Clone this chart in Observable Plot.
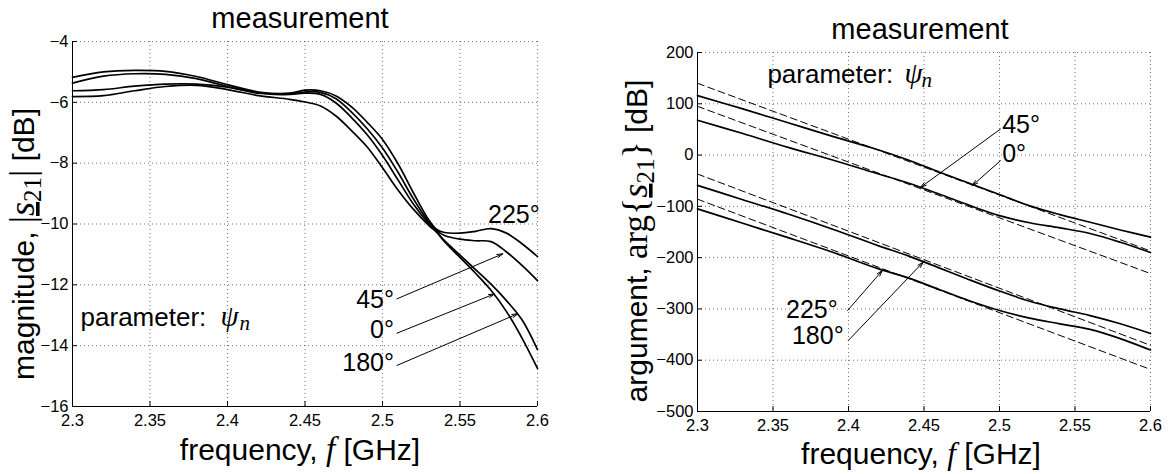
<!DOCTYPE html>
<html><head><meta charset="utf-8">
<script src="https://cdn.jsdelivr.net/npm/d3@7"></script>
<script src="https://cdn.jsdelivr.net/npm/@observablehq/plot@0.6"></script>
<style>
body{margin:0;background:#fff;}
#wrap{position:relative;width:1168px;height:474px;overflow:hidden;background:#fff;}
#left,#right{position:absolute;top:0;}
#left{left:0;} #right{left:584px;}
</style></head><body>
<div id="wrap"><div id="left"></div><div id="right"></div></div>
<script>
const SANS = "'Liberation Sans', Arial, Helvetica, sans-serif";
const SERIF = "'Liberation Serif', 'DejaVu Serif', serif";

// ---------- tick values ----------
const xTicks = [2.3, 2.35, 2.4, 2.45, 2.5, 2.55, 2.6];
const yTicksMag = [-16, -14, -12, -10, -8, -6, -4];
const yTicksArg = [-500, -400, -300, -200, -100, 0, 100, 200];

// ---------- left panel: magnitude |s21| [dB] ----------
const freqMag = [2.30, 2.32, 2.34, 2.36, 2.38, 2.40, 2.42, 2.44, 2.45, 2.46, 2.47, 2.48, 2.49, 2.50, 2.51, 2.52, 2.53, 2.535, 2.54, 2.55, 2.56, 2.57, 2.58, 2.59, 2.60];
const mag225 = [-5.18, -5.00, -4.95, -4.98, -5.15, -5.42, -5.66, -5.70, -5.60, -5.62, -5.79, -6.15, -6.65, -7.22, -8.02, -8.98, -9.88, -10.18, -10.28, -10.30, -10.24, -10.15, -10.30, -10.65, -11.07];
const mag45  = [-5.37, -5.14, -5.06, -5.08, -5.22, -5.48, -5.70, -5.74, -5.66, -5.67, -5.88, -6.32, -6.86, -7.50, -8.30, -9.18, -9.95, -10.22, -10.38, -10.50, -10.55, -10.58, -10.92, -11.36, -11.86];
const mag0   = [-5.62, -5.58, -5.47, -5.40, -5.40, -5.50, -5.68, -5.73, -5.70, -5.74, -6.02, -6.50, -7.06, -7.75, -8.55, -9.35, -10.00, -10.26, -10.58, -11.10, -11.62, -12.18, -12.88, -13.75, -14.75];
const mag180 = [-5.81, -5.78, -5.62, -5.48, -5.44, -5.58, -5.78, -5.90, -5.99, -6.12, -6.45, -6.93, -7.46, -8.15, -8.88, -9.52, -10.05, -10.28, -10.55, -11.02, -11.50, -11.98, -12.52, -13.15, -14.13];

// ---------- right panel: argument arg{s21} ----------
const freqArg = [2.30, 2.33, 2.36, 2.39, 2.42, 2.44, 2.46, 2.48, 2.50, 2.52, 2.54, 2.56, 2.58, 2.60];
const arg0   = [116, 90, 63, 36, 10, -10, -33, -55, -77, -99, -116, -131, -146, -160];
const arg45  = [68, 42, 15, -10, -37, -55, -76, -98, -118, -132, -142, -153, -170, -190];
const arg180 = [-59, -87, -115, -145, -177, -197, -220, -243, -265, -285, -300, -313, -329, -348];
const arg225 = [-105, -133, -161, -190, -222, -240, -262, -284, -303, -318, -329, -340, -358, -380];
// straight (dashed) reference lines
const freqFit = [2.3, 2.6];
const fit0   = [140, -187];
const fit45  = [95, -231];
const fit180 = [-37, -371];
const fit225 = [-86, -418];

// ---------- annotations ----------
const magNotesStart = [{label: "225°", f: 2.5681, v: -9.98}];
const magNotesEnd = [
  {label: "45°", f: 2.5074, v: -12.75},
  {label: "0°", f: 2.5074, v: -13.74},
  {label: "180°", f: 2.5074, v: -14.84}];
const magArrows = [
  {f1: 2.5093, v1: -12.46, f2: 2.5776, v2: -10.98},
  {f1: 2.5093, v1: -13.59, f2: 2.5722, v2: -12.30},
  {f1: 2.5093, v1: -14.65, f2: 2.5873, v2: -12.95}];
const magParam = [{f: 2.3052, v: -13.34}];

const argNotesStart = [
  {label: "45°", f: 2.5018, v: 44},
  {label: "0°", f: 2.5018, v: -13}];
const argNotesEnd = [
  {label: "225°", f: 2.3929, v: -317},
  {label: "180°", f: 2.3968, v: -369}];
const argArrows = [
  {f1: 2.5006, v1: 50.6, f2: 2.4477, v2: -63.0},
  {f1: 2.5006, v1: -11.1, f2: 2.4819, v2: -59.7},
  {f1: 2.3994, v1: -303.1, f2: 2.4224, v2: -225.1},
  {f1: 2.3999, v1: -361.5, f2: 2.4494, v2: -208.9}];
const argParam = [{f: 2.3463, v: 141.2}];

// ---------- tables ----------
function table(freq, series) {
  const out = [];
  for (const [k, arr] of series) arr.forEach((v, i) => out.push({psi: k, f: freq[i], v}));
  return out;
}
const magTable = table(freqMag, [["225", mag225], ["45", mag45], ["0", mag0], ["180", mag180]]);
const argTable = table(freqArg, [["0", arg0], ["45", arg45], ["180", arg180], ["225", arg225]]);
const fitTable = table(freqFit, [["0", fit0], ["45", fit45], ["180", fit180], ["225", fit225]]);

const fmt = d => (d < 0 ? "\u2212" + Math.abs(d) : String(d));
const gridStyle = {stroke: "#000", strokeOpacity: 0.55, strokeDasharray: "1,3", strokeWidth: 1};
const baseStyle = {fontFamily: SANS, fontSize: "16.5px", background: "white", color: "black", overflow: "visible"};

function axesMarks(yTicks, x0, y0, xPad) {
  return [
    Plot.gridX(xTicks, gridStyle),
    Plot.gridY(yTicks, gridStyle),
    Plot.ruleX([x0], {stroke: "black", strokeWidth: 1}),
    Plot.ruleY([y0], {stroke: "black", strokeWidth: 1}),
    Plot.axisX(xTicks, {tickSize: 5, dy: -5, fill: "none", label: null}),
    Plot.axisX(xTicks, {tickSize: 0, tickPadding: xPad, stroke: "none", tickFormat: fmt, label: null}),
    Plot.axisY(yTicks, {tickSize: 5, dx: 5, fill: "none", label: null}),
    Plot.axisY(yTicks, {tickSize: 0, tickPadding: 4, stroke: "none", tickFormat: fmt, label: null})
  ];
}
function noteMarks(starts, ends, arrows, param, psiDx, nDx) {
  return [
    Plot.arrow(arrows, {x1: "f1", y1: "v1", x2: "f2", y2: "v2", stroke: "black", strokeWidth: 1, headLength: 9, headAngle: 32}),
    Plot.text(starts, {x: "f", y: "v", text: "label", textAnchor: "start", lineAnchor: "bottom", fontSize: 25}),
    Plot.text(ends, {x: "f", y: "v", text: "label", textAnchor: "end", lineAnchor: "bottom", fontSize: 25}),
    Plot.text(param, {x: "f", y: "v", text: () => "parameter:", textAnchor: "start", lineAnchor: "bottom", fontSize: 26}),
    Plot.text(param, {x: "f", y: "v", text: () => "ψ", dx: psiDx, textAnchor: "start", lineAnchor: "bottom", fontSize: 29, fontFamily: SERIF, fontStyle: "italic"}),
    Plot.text(param, {x: "f", y: "v", text: () => "n", dx: nDx, dy: 4, textAnchor: "start", lineAnchor: "bottom", fontSize: 21, fontFamily: SERIF, fontStyle: "italic"})
  ];
}

const leftPlot = Plot.plot({
  width: 584, height: 474,
  marginLeft: 72, marginRight: 47, marginTop: 41, marginBottom: 68,
  x: {domain: [2.3, 2.6]},
  y: {domain: [-16, -4]},
  style: baseStyle,
  marks: [
    ...axesMarks(yTicksMag, 2.3, -16, 8),
    Plot.line(magTable, {x: "f", y: "v", z: "psi", stroke: "black", strokeWidth: 1.7, curve: "catmull-rom"}),
    ...noteMarks(magNotesStart, magNotesEnd, magArrows, magParam, 140, 159),
    Plot.text(["measurement"], {text: d => d, frameAnchor: "top", dx: -5, dy: -14, lineAnchor: "bottom", fontSize: 29})
  ]
});

const rightPlot = Plot.plot({
  width: 584, height: 474,
  marginLeft: 113, marginRight: 18, marginTop: 52, marginBottom: 63,
  x: {domain: [2.3, 2.6]},
  y: {domain: [-500, 200]},
  style: baseStyle,
  marks: [
    ...axesMarks(yTicksArg, 2.3, -500, 8),
    Plot.line(fitTable, {x: "f", y: "v", z: "psi", stroke: "black", strokeWidth: 1, strokeDasharray: "7,4"}),
    Plot.line(argTable, {x: "f", y: "v", z: "psi", stroke: "black", strokeWidth: 1.7, curve: "catmull-rom"}),
    ...noteMarks(argNotesStart, argNotesEnd, argArrows, argParam, 137, 154),
    Plot.text(["measurement"], {text: d => d, frameAnchor: "top", dx: -4, dy: -14, lineAnchor: "bottom", fontSize: 29})
  ]
});

function addLabel(svg, x, y, rotate, parts) {
  const t = d3.select(svg).append("text")
    .attr("text-anchor", "middle")
    .attr("fill", "black")
    .attr("transform", `translate(${x},${y})` + (rotate ? " rotate(-90)" : ""));
  for (const p of parts) {
    const ts = t.append("tspan").text(p.t)
      .attr("font-family", p.ff || SANS)
      .attr("font-size", p.fs);
    if (p.it) ts.attr("font-style", "italic");
    if (p.ul) ts.attr("text-decoration", "underline");
    if (p.dy) ts.attr("dy", p.dy);
  }
}
const sub = [{t: "s", fs: 36, ff: SERIF, it: true, ul: true}, {t: "21", fs: 25, ff: SERIF, dy: 7}];

addLabel(leftPlot, 300, 460, false, [
  {t: "frequency, ", fs: 30}, {t: "f", fs: 33, ff: SERIF, it: true}, {t: " [GHz]", fs: 30}]);
addLabel(leftPlot, 34, 244, true, [
  {t: "magnitude, ", fs: 30}, {t: "|", fs: 36, ff: SERIF}, ...sub,
  {t: "|", fs: 36, ff: SERIF, dy: -7}, {t: " [dB]", fs: 30}]);
addLabel(rightPlot, 337, 464, false, [
  {t: "frequency, ", fs: 30}, {t: "f", fs: 31, ff: SERIF, it: true}, {t: " [GHz]", fs: 30}]);
addLabel(rightPlot, 63, 241, true, [
  {t: "argument, ", fs: 30}, {t: "arg", fs: 35, ff: SERIF}, {t: "{", fs: 36, ff: SERIF}, ...sub,
  {t: "}", fs: 36, ff: SERIF, dy: -7}, {t: " [dB]", fs: 30}]);

document.getElementById("left").appendChild(leftPlot);
document.getElementById("right").appendChild(rightPlot);
</script>
</body></html>
